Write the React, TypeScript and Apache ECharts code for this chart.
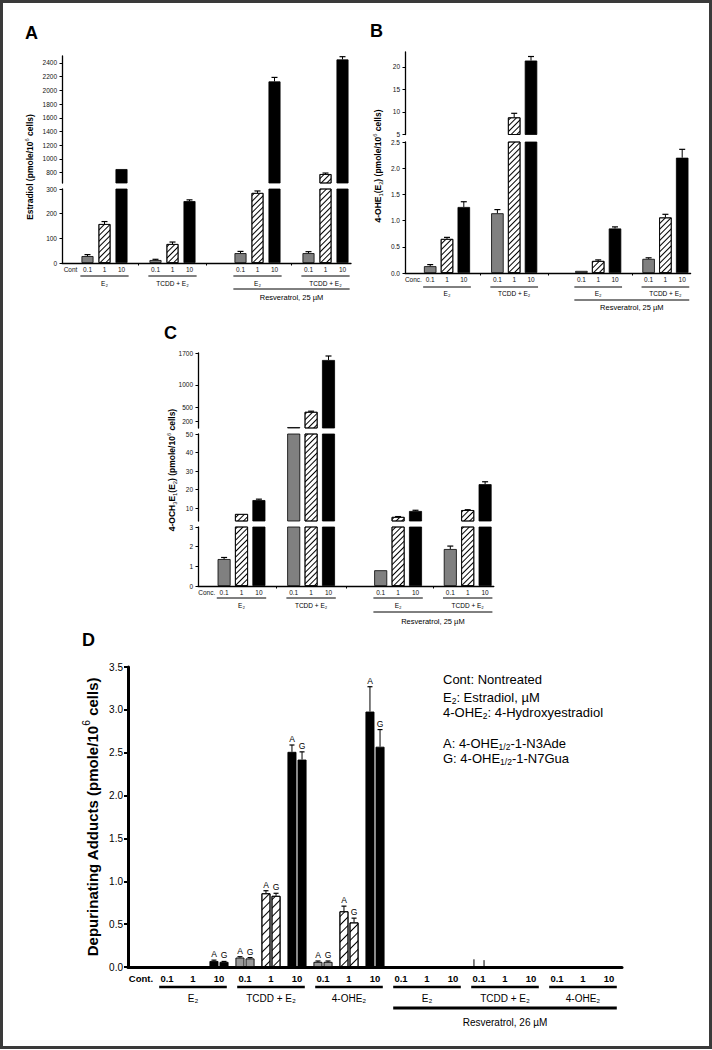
import React, { useEffect, useRef } from "react";
import * as echarts from "echarts";

const FONT = '"Liberation Sans", Arial, "DejaVu Sans", sans-serif';

// ---------------- Panels A–C: category slots ('' = spacer slot) ----------------
const abcCatsA = ["Cont", "0.1", "1", "10", "", "0.1", "1", "10", "", "", "0.1", "1", "10", "", "0.1", "1", "10"];
const abcCatsBC = ["Conc.", "0.1", "1", "10", "", "0.1", "1", "10", "", "", "0.1", "1", "10", "", "0.1", "1", "10"];
const abcDose = ["", "lo", "mid", "hi", "", "lo", "mid", "hi", "", "", "lo", "mid", "hi", "", "lo", "mid", "hi"];
const abcGapTicks = [4, 8, 13];
const abcGroups = [
  { from: 1, to: 3, label: "E₂", row: 0 },
  { from: 5, to: 7, label: "TCDD + E₂", row: 0 },
  { from: 10, to: 12, label: "E₂", row: 0 },
  { from: 14, to: 16, label: "TCDD + E₂", row: 0 },
  { from: 10, to: 16, label: "Resveratrol, 25 µM", row: 1 },
];

// Panel A: Estradiol (pmole/10^6 cells)
const aValues = [0, 28, 158, 853, null, 12, 77, 251, null, null, 40, 284, 2130, null, 40, 780, 2450];
const aErrTop = [null, 34, 168, null, null, 15, 85, 256, null, null, 47, 292, 2188, null, 46, 795, 2490];
const aTicksLow = [0, 100, 200, 300];
const aTicksHigh = [800, 1000, 1200, 1400, 1600, 1800, 2000, 2200, 2400];

// Panel B: 4-OHE1(E2)
const bValues = [0, 0.13, 0.65, 1.26, null, 1.14, 8.8, 21.4, null, null, 0.04, 0.23, 0.85, null, 0.27, 1.06, 2.2];
const bErrTop = [null, 0.16, 0.68, 1.36, null, 1.21, 9.7, 22.3, null, null, null, 0.25, 0.88, null, 0.29, 1.12, 2.36];
const bTicksLow = [0, 0.5, 1, 1.5, 2, 2.5];
const bTicksHigh = [5, 10, 15, 20];

// Panel C: 4-OCH3E1(E2)
const cValues = [0, 1.37, 6.8, 14.3, null, 70, 405, 1546, null, null, 0.8, 5.2, 8.4, null, 1.88, 8.9, 22.9];
const cErrTop = [null, 1.45, null, 14.8, null, null, 420, 1634, null, null, null, 5.4, 8.8, null, 2.03, 9.1, 24.2];
const cTicksLow = [0, 1, 2, 3];
const cTicksMid = [10, 20, 30, 40, 50];
const cTicksHigh = [200, 500, 1000, 1700];

// ---------------- Panel D: depurinating adducts ----------------
const dCats = ["Cont.", "0.1", "1", "10", "0.1", "1", "10", "0.1", "1", "10", "0.1", "1", "10", "0.1", "1", "10", "0.1", "1", "10"];
const dDose = ["", "lo", "mid", "hi", "lo", "mid", "hi", "lo", "mid", "hi", "lo", "mid", "hi", "lo", "mid", "hi", "lo", "mid", "hi"];
const dAdeValues = [0, 0, 0, 0.07, 0.11, 0.86, 2.51, 0.06, 0.65, 2.98, 0, 0, 0, 0, 0, 0, 0, 0, 0];
const dAdeErrTop = [null, null, null, 0.08, 0.12, 0.89, 2.59, 0.07, 0.71, 3.27, null, null, null, 0.09, null, null, null, null, null];
const dGuaValues = [0, 0, 0, 0.06, 0.1, 0.83, 2.42, 0.06, 0.52, 2.57, 0, 0, 0, 0, 0, 0, 0, 0, 0];
const dGuaErrTop = [null, null, null, 0.065, 0.11, 0.86, 2.51, 0.07, 0.57, 2.77, null, null, null, 0.08, null, null, null, null, null];
const dShowLetter = [0, 0, 0, 1, 1, 1, 1, 1, 1, 1, 0, 0, 0, 0, 0, 0, 0, 0, 0];
const dTicks = [0, 0.5, 1, 1.5, 2, 2.5, 3, 3.5];
const dGroups = [
  { from: 1, to: 3, label: "E₂", row: 0 },
  { from: 4, to: 6, label: "TCDD + E₂", row: 0 },
  { from: 7, to: 9, label: "4-OHE₂", row: 0 },
  { from: 10, to: 12, label: "E₂", row: 0 },
  { from: 13, to: 15, label: "TCDD + E₂", row: 0 },
  { from: 16, to: 18, label: "4-OHE₂", row: 0 },
  { from: 10, to: 18, label: "Resveratrol, 26 µM", row: 1 },
];
const legendLines = [
  "Cont: Nontreated",
  "E{sub|2}: Estradiol, µM",
  "4-OHE{sub|2}: 4-Hydroxyestradiol",
  "",
  "A: 4-OHE{sub|1/2}-1-N3Ade",
  "G: 4-OHE{sub|1/2}-1-N7Gua",
];

// ---------------- layout (positions only) ----------------
const abcPanels = [
  {
    key: "A", cats: abcCatsA, values: aValues, errTop: aErrTop, left: 62, band: 17, barW: 12, cap: 3, hatchGap: 2.6,
    fmt: (v: number) => String(v),
    segs: [
      { min: 0, max: 300, top: 189, bottom: 263, ticks: aTicksLow },
      { min: 650, max: 2500, top: 56, bottom: 183, ticks: aTicksHigh },
    ],
    annot: { lineY: [276, 289], labelY: [283, 297], fs: [6.5, 7.5] },
    yName: { x: 30, y: 167, text: "Estradiol (pmole/10{sup|6} cells)", fs: 8.5 },
  },
  {
    key: "B", cats: abcCatsBC, values: bValues, errTop: bErrTop, left: 405, band: 16.8, barW: 12.5, cap: 3, hatchGap: 2.6,
    fmt: (v: number) => (v < 4 ? v.toFixed(1) : String(v)),
    segs: [
      { min: 0, max: 2.5, top: 142, bottom: 273, ticks: bTicksLow },
      { min: 5, max: 23.3, top: 52, bottom: 134.5, ticks: bTicksHigh },
    ],
    annot: { lineY: [287, 300], labelY: [293, 307], fs: [6.5, 7.5] },
    yName: { x: 378, y: 166, text: "4-OHE{sub|1}(E{sub|2}) (pmole/10{sup|6} cells)", fs: 8.5 },
  },
  {
    key: "C", cats: abcCatsBC, values: cValues, errTop: cErrTop, left: 198, band: 17.4, barW: 13, cap: 3, hatchGap: 2.6,
    fmt: (v: number) => String(v),
    segs: [
      { min: 0, max: 3, top: 527, bottom: 586, ticks: cTicksLow },
      { min: 3, max: 50, top: 434, bottom: 521, ticks: cTicksMid },
      { min: 50, max: 1700, top: 353, bottom: 428, ticks: cTicksHigh },
    ],
    annot: { lineY: [598, 612], labelY: [605, 621], fs: [6.5, 7.5] },
    yName: { x: 172, y: 470, text: "4-OCH{sub|3}E{sub|1}(E{sub|2}) (pmole/10{sup|6} cells)", fs: 8.5 },
  },
];

const hatch = (gap: number) => ({
  symbol: "rect",
  symbolSize: 1,
  color: "#000",
  dashArrayX: [1, 0],
  dashArrayY: [1, gap],
  rotation: -Math.PI / 4,
});

function barStyle(dose: string, bw: number, gap: number, grey: string) {
  if (dose === "lo") return { color: grey, borderColor: "#000", borderWidth: bw };
  if (dose === "mid") return { color: "#fff", borderColor: "#000", borderWidth: bw, decal: hatch(gap) };
  if (dose === "hi") return { color: "#000", borderColor: "#000", borderWidth: bw };
  return { color: "#000", borderWidth: 0 };
}

const errRender = (offset: number, cap: number, letter?: string) => (params: any, api: any) => {
  const i = api.value(0);
  const top = api.value(1);
  const base = api.value(2);
  const p0 = api.coord([i, base]);
  const p1 = api.coord([i, top]);
  const x = p0[0] + offset;
  const c = base > 0 ? cap : 0;
  const children: any[] = [
    { type: "line", shape: { x1: x, y1: p0[1], x2: x, y2: p1[1] }, style: { stroke: "#000", lineWidth: 1 } },
  ];
  if (c > 0) {
    children.push({ type: "line", shape: { x1: x - c, y1: p1[1], x2: x + c, y2: p1[1] }, style: { stroke: "#000", lineWidth: 1.2 } });
  }
  if (letter && api.value(3)) {
    children.push({
      type: "text",
      x,
      y: p1[1] - 1.5,
      style: { text: letter, fontSize: 8.5, fontFamily: FONT, fill: "#000", textAlign: "center", textVerticalAlign: "bottom" },
    });
  }
  return { type: "group", children };
};

function buildOption() {
  const grid: any[] = [];
  const xAxis: any[] = [];
  const yAxis: any[] = [];
  const series: any[] = [];
  const bottomAxis: Record<string, number> = {};

  for (const p of abcPanels) {
    p.segs.forEach((s, si) => {
      const gi = grid.length;
      const isBottom = si === 0;
      if (isBottom) bottomAxis[p.key] = gi;
      grid.push({ left: p.left, top: s.top, width: p.band * p.cats.length, height: s.bottom - s.top });
      xAxis.push(
        isBottom
          ? {
              type: "category",
              gridIndex: gi,
              data: p.cats,
              axisLine: { show: true, onZero: false, lineStyle: { color: "#000", width: 1.3 } },
              axisTick: {
                show: true,
                alignWithLabel: true,
                interval: (idx: number) => abcGapTicks.indexOf(idx) >= 0,
                length: 2.5,
                lineStyle: { color: "#000", width: 1 },
              },
              axisLabel: { show: true, interval: 0, fontSize: 6.5, fontFamily: FONT, color: "#111", margin: 2.5 },
            }
          : { type: "category", gridIndex: gi, data: p.cats, show: false }
      );
      yAxis.push({
        type: "value",
        gridIndex: gi,
        min: s.min,
        max: s.max,
        splitLine: { show: false },
        axisLine: { show: true, onZero: false, lineStyle: { color: "#000", width: 1.3 } },
        axisTick: { show: true, customValues: s.ticks, length: 2.5, lineStyle: { color: "#000", width: 1 } },
        axisLabel: {
          show: true,
          customValues: s.ticks,
          fontSize: 6.5,
          fontFamily: FONT,
          color: "#111",
          margin: 5,
          formatter: p.fmt,
        },
      });
      series.push({
        type: "bar",
        xAxisIndex: gi,
        yAxisIndex: gi,
        barWidth: p.barW,
        clip: true,
        silent: true,
        animation: false,
        data: p.values.map((v, i) =>
          v === null ? "-" : { value: v, itemStyle: barStyle(abcDose[i], 0.8, p.hatchGap, "#808080") }
        ),
      });
      const err: any[] = [];
      p.values.forEach((v, i) => {
        const t = p.errTop[i];
        if (v === null || t === null) return;
        const inSeg = si === 0 ? v <= s.max : v > s.min && v <= s.max;
        if (inSeg) err.push([i, t, v]);
      });
      if (err.length) {
        series.push({
          type: "custom",
          xAxisIndex: gi,
          yAxisIndex: gi,
          silent: true,
          z: 5,
          data: err,
          renderItem: errRender(0, p.cap),
        });
      }
    });
  }

  // Panel D
  const gi = grid.length;
  bottomAxis.D = gi;
  const dBand = 26;
  const dBarW = 9;
  const dGapFrac = 0.12;
  grid.push({ left: 128, top: 667, width: dBand * dCats.length, height: 300 });
  xAxis.push({
    type: "category",
    gridIndex: gi,
    data: dCats,
    axisLine: { show: true, onZero: false, lineStyle: { color: "#000", width: 3 } },
    axisTick: { show: false },
    axisLabel: { show: true, interval: 0, fontSize: 9.5, fontWeight: "bold", fontFamily: FONT, color: "#000", margin: 6 },
  });
  yAxis.push({
    type: "value",
    gridIndex: gi,
    min: 0,
    max: 3.5,
    interval: 0.5,
    splitLine: { show: false },
    axisLine: { show: true, onZero: false, lineStyle: { color: "#000", width: 3 } },
    axisTick: { show: true, customValues: dTicks, length: 4, lineStyle: { color: "#000", width: 2 } },
    axisLabel: {
      show: true,
      customValues: dTicks,
      fontSize: 10,
      fontFamily: FONT,
      color: "#000",
      margin: 5,
      formatter: (v: number) => v.toFixed(1),
    },
  });
  const dSeries = [
    { name: "A", values: dAdeValues, errTop: dAdeErrTop, sign: -1 },
    { name: "G", values: dGuaValues, errTop: dGuaErrTop, sign: 1 },
  ];
  for (const ds of dSeries) {
    series.push({
      type: "bar",
      name: ds.name,
      xAxisIndex: gi,
      yAxisIndex: gi,
      barWidth: dBarW,
      barGap: dGapFrac * 100 + "%",
      silent: true,
      data: ds.values.map((v, i) => ({ value: v, itemStyle: barStyle(dDose[i], 0.9, 4.2, "#9a9a9a") })),
    });
  }
  for (const ds of dSeries) {
    const err: any[] = [];
    ds.values.forEach((v, i) => {
      const t = ds.errTop[i];
      if (t === null) return;
      err.push([i, t, v, dShowLetter[i]]);
    });
    series.push({
      type: "custom",
      xAxisIndex: gi,
      yAxisIndex: gi,
      silent: true,
      z: 5,
      data: err,
      renderItem: errRender((ds.sign * dBarW * (1 + dGapFrac)) / 2, 2.5, ds.name),
    });
  }

  return {
    option: {
      animation: false,
      backgroundColor: "#fff",
      textStyle: { fontFamily: FONT },
      grid,
      xAxis,
      yAxis,
      series,
    },
    bottomAxis,
  };
}

const richSubSup = (fs: number) => ({
  sub: { fontSize: fs * 0.68, fontFamily: FONT, verticalAlign: "bottom", fill: "#000" },
  sup: { fontSize: fs * 0.68, fontFamily: FONT, verticalAlign: "top", fill: "#000" },
});

function buildGraphics(chart: any, bottomAxis: Record<string, number>) {
  const g: any[] = [];
  // frame
  g.push({
    type: "rect",
    shape: { x: 1.5, y: 1.5, width: 709, height: 1046 },
    style: { fill: "none", stroke: "#3a3a3a", lineWidth: 3 },
    z: 100,
  });
  // panel letters
  const letters: [string, number, number][] = [
    ["A", 25, 24],
    ["B", 370, 22],
    ["C", 164, 324],
    ["D", 82, 631],
  ];
  for (const [t, x, y] of letters) {
    g.push({
      type: "text",
      x,
      y,
      style: { text: t, fontSize: 18, fontWeight: "bold", fontFamily: FONT, fill: "#000", textAlign: "left", textVerticalAlign: "top" },
    });
  }
  // y-axis names
  const names = [
    ...abcPanels.map((p) => ({ ...p.yName, bold: true })),
    { x: 92, y: 817, text: "Depurinating Adducts (pmole/10{sup|6} cells)", fs: 15, bold: true },
  ];
  for (const n of names) {
    g.push({
      type: "text",
      x: n.x,
      y: n.y,
      rotation: Math.PI / 2,
      style: {
        text: n.text,
        fontSize: n.fs,
        fontWeight: n.bold ? "bold" : "normal",
        fontFamily: FONT,
        fill: "#000",
        lineHeight: n.fs * 1.35,
        textAlign: "center",
        textVerticalAlign: "middle",
        rich: richSubSup(n.fs),
      },
    });
  }
  // group underlines and labels
  const groupSets = [
    ...abcPanels.map((p) => ({ key: p.key, groups: abcGroups, annot: p.annot, ext: 0.42, lw: [1, 1] })),
    {
      key: "D",
      groups: dGroups,
      annot: { lineY: [987, 1008], labelY: [998, 1022], fs: [10, 10] },
      ext: 0.3,
      lw: [2.5, 3],
    },
  ];
  for (const gs of groupSets) {
    const ai = bottomAxis[gs.key];
    const px = (i: number) => chart.convertToPixel({ xAxisIndex: ai }, i) as number;
    const band = px(1) - px(0);
    for (const grp of gs.groups) {
      const x1 = px(grp.from) - gs.ext * band;
      const x2 = px(grp.to) + gs.ext * band;
      const ly = gs.annot.lineY[grp.row];
      g.push({
        type: "line",
        shape: { x1, y1: ly, x2, y2: ly },
        style: { stroke: "#000", lineWidth: gs.lw[grp.row] },
      });
      g.push({
        type: "text",
        x: (x1 + x2) / 2,
        y: gs.annot.labelY[grp.row],
        style: {
          text: grp.label,
          fontSize: gs.annot.fs[grp.row],
          fontFamily: FONT,
          fill: "#000",
          textAlign: "center",
          textVerticalAlign: "middle",
        },
      });
    }
  }
  // legend block of panel D
  const legendTops = [679, 697, 712, 727, 743, 758];
  legendLines.forEach((t, i) => {
    if (!t) return;
    g.push({
      type: "text",
      x: 443,
      y: legendTops[i],
      style: {
        text: t,
        fontSize: 13,
        fontFamily: FONT,
        fill: "#000",
        lineHeight: 16,
        textAlign: "left",
        textVerticalAlign: "middle",
        rich: { sub: { fontSize: 8.5, fontFamily: FONT, verticalAlign: "bottom", fill: "#000" } },
      },
    });
  });
  return g;
}

export default function App() {
  const ref = useRef<HTMLDivElement>(null);
  useEffect(() => {
    if (!ref.current) return;
    const chart = echarts.init(ref.current, null, { renderer: "svg" });
    const { option, bottomAxis } = buildOption();
    chart.setOption(option as any);
    chart.setOption({ graphic: buildGraphics(chart, bottomAxis) } as any);
    return () => chart.dispose();
  }, []);
  return (
    <div
      ref={ref}
      style={{ position: "absolute", left: 0, top: 0, width: 712, height: 1050, background: "#fff" }}
    />
  );
}
